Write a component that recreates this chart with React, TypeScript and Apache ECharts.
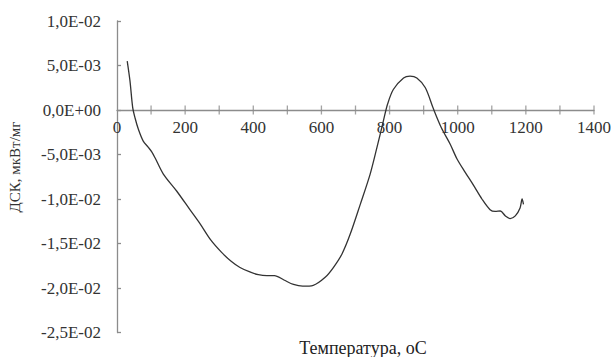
import React, { useEffect, useRef } from "react";
import * as echarts from "echarts";

const temperature = [30, 38, 46, 53, 63, 77, 92, 102, 112, 136, 175, 214, 244, 275, 307, 335, 361, 390, 415, 440, 462, 490, 518, 545, 576, 611, 635, 660, 684, 714, 743, 763, 782, 794, 811, 841, 860, 880, 905, 929, 952, 978, 998, 1022, 1047, 1071, 1095, 1110, 1125, 1140, 1154, 1169, 1183, 1189, 1193];
const dsc = [5.5e-3, 3.3e-3, 0.3e-3, -0.9e-3, -2.2e-3, -3.5e-3, -4.2e-3, -4.7e-3, -5.4e-3, -7.2e-3, -9.1e-3, -11.2e-3, -12.8e-3, -14.6e-3, -16.0e-3, -17.0e-3, -17.7e-3, -18.2e-3, -18.5e-3, -18.6e-3, -18.6e-3, -19.1e-3, -19.6e-3, -19.8e-3, -19.7e-3, -18.8e-3, -17.7e-3, -16.2e-3, -14.0e-3, -10.6e-3, -7.2e-3, -4.2e-3, -1.2e-3, 0.64e-3, 2.3e-3, 3.6e-3, 3.8e-3, 3.6e-3, 2.5e-3, 0.1e-3, -2.0e-3, -3.85e-3, -5.5e-3, -7.0e-3, -8.5e-3, -10.0e-3, -11.2e-3, -11.4e-3, -11.35e-3, -11.9e-3, -12.2e-3, -11.9e-3, -11.0e-3, -10.0e-3, -10.6e-3];
const yTicks = [-2.5e-2, -2.0e-2, -1.5e-2, -1.0e-2, -5.0e-3, 0, 5.0e-3, 1.0e-2];
const yTickLabels = ["-2,5E-02", "-2,0E-02", "-1,5E-02", "-1,0E-02", "-5,0E-03", "0,0E+00", "5,0E-03", "1,0E-02"];
const xLabelValues = [0, 200, 400, 600, 800, 1000, 1200, 1400];
const xTickValues = [100, 200, 300, 400, 500, 600, 700, 800, 900, 1000, 1100, 1200, 1300, 1400];
const xTitle = "Температура, оС";
const yTitle = "ДСК, мкВт/мг";

const FONT = "'Liberation Serif', 'Times New Roman', serif";
const AXIS_COLOR = "#8c8c8c";

const Y_MIN = -0.025;
const Y_MAX = 0.01;
const TOP = 21;
const BOTTOM = 24.5;
const H = 357;

export default function App() {
  const ref = useRef<HTMLDivElement>(null);
  useEffect(() => {
    if (!ref.current) return;
    const chart = echarts.init(ref.current, undefined, { renderer: "svg" });
    const data = temperature.map((t, i) => [t, dsc[i]]);
    const tickData = xTickValues.map((t) => [t, 0]);
    const yFormatter = (v: number) => {
      const idx = yTicks.findIndex((t) => Math.abs(t - v) < 1e-9);
      return idx >= 0 ? yTickLabels[idx] : "";
    };
    const xFormatter = (v: number) => (xLabelValues.includes(v) ? String(v) : "");
    const lineStyle = { color: AXIS_COLOR, width: 1.3 };
    const plotH = H - TOP - BOTTOM;
    const zeroY = TOP + (plotH * Y_MAX) / (Y_MAX - Y_MIN);
    chart.setOption({
      animation: false,
      grid: [
        { left: 117, right: 19, top: TOP, bottom: BOTTOM, outerBoundsMode: "none" },
        { left: 117, right: 19, top: TOP, bottom: H - zeroY, outerBoundsMode: "none" },
      ],
      xAxis: [
        {
          type: "value",
          gridIndex: 0,
          min: 0,
          max: 1400,
          interval: 100,
          show: false,
        },
        {
          type: "value",
          gridIndex: 1,
          min: 0,
          max: 1400,
          interval: 100,
          position: "bottom",
          axisLine: { show: true, onZero: false, lineStyle },
          axisTick: { show: false },
          axisLabel: { formatter: xFormatter, fontFamily: FONT, fontSize: 17, color: "#333", margin: 9 },
          splitLine: { show: false },
        },
      ],
      yAxis: [
        {
          type: "value",
          gridIndex: 0,
          min: Y_MIN,
          max: Y_MAX,
          interval: 0.005,
          axisLine: { show: true, lineStyle },
          axisTick: { show: true, length: 4, inside: true, lineStyle },
          axisLabel: { formatter: yFormatter, fontFamily: FONT, fontSize: 17, color: "#333", margin: 16 },
          splitLine: { show: false },
        },
        {
          type: "value",
          gridIndex: 1,
          min: 0,
          max: Y_MAX,
          show: false,
        },
      ],
      graphic: [
        {
          type: "text",
          x: 363,
          y: 348,
          style: { text: xTitle, fontFamily: FONT, fontSize: 18, fill: "#222", align: "center", verticalAlign: "middle" },
        },
        {
          type: "text",
          x: 15,
          y: 167,
          rotation: Math.PI / 2,
          style: { text: yTitle, fontFamily: FONT, fontSize: 15, fill: "#333", align: "center", verticalAlign: "middle" },
        },
      ],
      series: [
        {
          type: "scatter",
          xAxisIndex: 0,
          yAxisIndex: 0,
          data: tickData,
          symbol: "rect",
          symbolSize: [1.3, 9],
          itemStyle: { color: AXIS_COLOR },
          silent: true,
          z: 1,
        },
        {
          type: "line",
          xAxisIndex: 0,
          yAxisIndex: 0,
          data,
          smooth: 0.3,
          showSymbol: false,
          symbol: "none",
          lineStyle: { color: "#333", width: 1.3 },
          z: 3,
        },
      ],
    });
    return () => chart.dispose();
  }, []);
  return <div ref={ref} style={{ width: 613, height: 357, position: "absolute", left: 0, top: 0 }} />;
}
